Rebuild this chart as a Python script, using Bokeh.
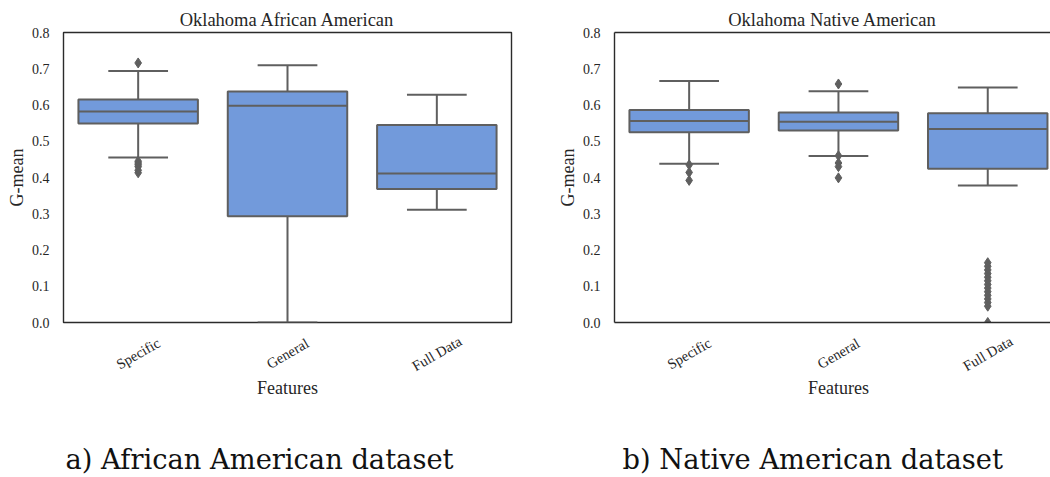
from math import pi

from bokeh.embed import file_html
from bokeh.layouts import column, row
from bokeh.models import FixedTicker, Label, LinearAxis, NumeralTickFormatter, Range1d
from bokeh.plotting import figure
from bokeh.resources import INLINE

# ---- data -----------------------------------------------------------------
categories = ["Specific", "General", "Full Data"]
y_ticks = [0.0, 0.1, 0.2, 0.3, 0.4, 0.5, 0.6, 0.7, 0.8]

# Oklahoma African American: G-mean box statistics per feature set
aa_q1 = [0.549, 0.293, 0.368]
aa_median = [0.582, 0.598, 0.411]
aa_q3 = [0.615, 0.637, 0.545]
aa_low = [0.455, 0.0, 0.311]
aa_high = [0.694, 0.710, 0.628]
aa_outliers = [
    [0.716, 0.445, 0.440, 0.435, 0.430, 0.420, 0.413],
    [],
    [],
]

# Oklahoma Native American: G-mean box statistics per feature set
na_q1 = [0.525, 0.530, 0.424]
na_median = [0.556, 0.554, 0.534]
na_q3 = [0.586, 0.579, 0.577]
na_low = [0.438, 0.459, 0.378]
na_high = [0.666, 0.638, 0.648]
na_outliers = [
    [0.435, 0.414, 0.392],
    [0.658, 0.460, 0.440, 0.430, 0.399],
    [0.165, 0.155, 0.145, 0.135, 0.125, 0.115, 0.105, 0.095,
     0.085, 0.075, 0.065, 0.055, 0.045, 0.0],
]

# ---- style ----------------------------------------------------------------
BOX_FILL = "#729ADB"
LINE = "#5f5f5f"
FRAME = "#2b2b2b"
TEXT = "#262626"
SERIF = "Liberation Serif"
CAPTION_FONT = "DejaVu Serif"
X_PX = 149.3            # px per category slot
PLOT_H = 330            # box plot canvas height (frame ends 8 px above its bottom)
STRIP_H = 477 - PLOT_H  # strip under the plot: category names, axis title, caption


def frame_axis():
    """A bare axis used only to draw one side of the frame."""
    return LinearAxis(ticker=FixedTicker(ticks=[]), axis_line_color=FRAME, axis_line_width=1.4,
                      major_tick_out=0, major_tick_in=0, minor_tick_out=0, minor_tick_in=0,
                      major_label_standoff=0, major_label_text_font_size="0px")


def box_panel(title, q1, med, q3, low, high, outliers, caption,
              width, border_left, border_right, x_end, caption_dx, full_frame):
    x_range = Range1d(-0.5, x_end)
    p = figure(width=width, height=PLOT_H,
               x_range=x_range, y_range=Range1d(0, 0.8),
               x_axis_location=None,
               output_backend="svg", toolbar_location=None,
               min_border_left=border_left, min_border_right=border_right,
               min_border_top=32, min_border_bottom=8)
    p.background_fill_color = "white"
    p.border_fill_color = "white"
    p.grid.visible = False

    # title
    p.title.text = title
    p.title.align = "center"
    p.title.text_font = SERIF
    p.title.text_font_size = "18.5px"
    p.title.text_font_style = "normal"
    p.title.text_color = TEXT
    p.title.standoff = 5

    # y axis
    ya = p.yaxis[0]
    ya.ticker = FixedTicker(ticks=y_ticks)
    ya.formatter = NumeralTickFormatter(format="0.0")
    ya.major_tick_out = 0
    ya.major_tick_in = 0
    ya.minor_tick_out = 0
    ya.minor_tick_in = 0
    ya.major_tick_line_color = None
    ya.minor_tick_line_color = None
    ya.major_label_standoff = 14
    ya.major_label_text_font = SERIF
    ya.major_label_text_font_size = "14px"
    ya.major_label_text_color = TEXT
    ya.axis_label = "G-mean"
    ya.axis_label_text_font = SERIF
    ya.axis_label_text_font_size = "18px"
    ya.axis_label_text_font_style = "normal"
    ya.axis_label_text_color = TEXT
    ya.axis_label_standoff = 2

    if full_frame:
        ya.axis_line_color = None
        p.outline_line_color = FRAME
        p.outline_line_width = 1.4
    else:
        # open on the right: left, top and bottom edges only
        p.outline_line_color = None
        ya.axis_line_color = FRAME
        ya.axis_line_width = 1.4
        p.add_layout(frame_axis(), "below")
        p.add_layout(frame_axis(), "above")

    xs = list(range(len(categories)))

    # whiskers and caps
    p.segment(x0=xs, y0=q3, x1=xs, y1=high, line_color=LINE, line_width=2)
    p.segment(x0=xs, y0=q1, x1=xs, y1=low, line_color=LINE, line_width=2)
    p.segment(x0=[x - 0.2 for x in xs], y0=high, x1=[x + 0.2 for x in xs], y1=high,
              line_color=LINE, line_width=2)
    p.segment(x0=[x - 0.2 for x in xs], y0=low, x1=[x + 0.2 for x in xs], y1=low,
              line_color=LINE, line_width=2)

    # boxes and medians
    p.quad(left=[x - 0.4 for x in xs], right=[x + 0.4 for x in xs], bottom=q1, top=q3,
           fill_color=BOX_FILL, line_color=LINE, line_width=2)
    p.segment(x0=[x - 0.4 for x in xs], y0=med, x1=[x + 0.4 for x in xs], y1=med,
              line_color=LINE, line_width=2)

    # fliers
    fx, fy = [], []
    for x, vals in zip(xs, outliers):
        fx += [x] * len(vals)
        fy += vals
    p.scatter(fx, fy, marker="diamond", size=10, fill_color=LINE, line_color=LINE)

    # strip below the plot sharing the category scale; y counts px downwards
    s = figure(width=width, height=STRIP_H, title=None,
               x_range=x_range, y_range=Range1d(STRIP_H, 0),
               x_axis_location=None, y_axis_location=None,
               output_backend="svg", toolbar_location=None,
               min_border_left=border_left, min_border_right=border_right,
               min_border_top=0, min_border_bottom=0)
    s.outline_line_color = None
    s.background_fill_color = "white"
    s.border_fill_color = "white"
    s.grid.visible = False

    for x, name in zip(xs, categories):
        s.add_layout(Label(x=x, y=23, text=name, angle=pi / 6,
                           text_align="center", text_baseline="middle",
                           text_font=SERIF, text_font_size="14.5px", text_color=TEXT))
    s.add_layout(Label(x=1, y=57, text="Features", text_align="center",
                       text_baseline="middle", text_font=SERIF,
                       text_font_size="18px", text_color=TEXT))
    s.add_layout(Label(x=-0.5 + caption_dx / X_PX, y=128.5, text=caption,
                       text_align="left", text_baseline="middle",
                       text_font=CAPTION_FONT, text_font_size="27.3px",
                       text_color="#111111"))
    return column(p, s)


left = box_panel("Oklahoma African American", aa_q1, aa_median, aa_q3, aa_low, aa_high,
                 aa_outliers, "a) African American dataset",
                 width=530, border_left=63, border_right=19, x_end=2.5,
                 caption_dx=2, full_frame=True)

right = box_panel("Oklahoma Native American", na_q1, na_median, na_q3, na_low, na_high,
                  na_outliers, "b) Native American dataset",
                  width=520, border_left=84, border_right=0, x_end=-0.5 + 436 / X_PX,
                  caption_dx=8, full_frame=False)

layout = row(left, right)
open("out.html", "w").write(file_html(layout, INLINE))
